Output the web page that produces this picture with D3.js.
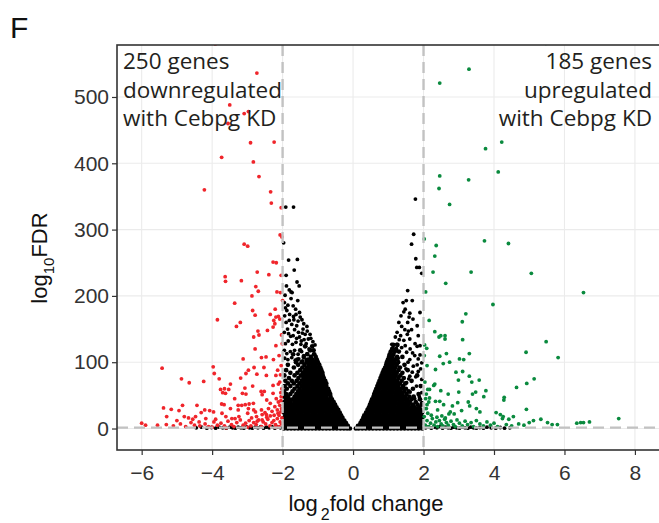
<!DOCTYPE html>
<html>
<head>
<meta charset="utf-8">
<script src="https://cdn.jsdelivr.net/npm/d3@7"></script>
<style>
  body { margin: 0; background: #fff; }
</style>
</head>
<body>
<script>
// axis ticks and cut-offs
var xTicks = [-6, -4, -2, 0, 2, 4, 6, 8];
var yTicks = [0, 100, 200, 300, 400, 500];
var fcCut = [-2, 2];
var fdrCut = 1.3;

var downText = ["250 genes", "downregulated", "with Cebpg KD"];
var upText = ["185 genes", "upregulated", "with Cebpg KD"];

// significant down genes [log2FC, log10FDR]
var redPts = [
  [-3.91,580],[-2.73,536],[-3.50,488],[-3.09,475],[-2.97,478],[-3.55,460],[-2.91,431],[-2.24,432],[-3.73,409],[-2.83,402],
  [-2.67,380],[-4.22,360],[-2.34,357],[-2.32,340],[-2.04,333],
  [-2.07,292],[-2.02,289],[-3.09,278],[-2.99,275],[-2.27,251],[-2.18,250],[-2.72,236],[-2.39,232],[-2.04,231],[-3.63,229],
  [-3.62,222],[-3.17,223],[-2.76,214],[-2.69,207],[-2.16,206],[-2.06,205],[-2.87,200],[-2.00,193],[-3.36,189],[-2.21,180],
  [-2.85,178],[-2.78,171],[-2.35,172],[-2.19,168],[-2.12,169],[-2.08,165],[-2.25,163],[-2.22,158],[-3.85,164],[-3.20,160],
  [-3.31,154],[-2.27,153],[-2.70,147],[-2.67,141],[-2.43,148],[-2.82,138],[-2.03,141],[-2.19,125],[-2.01,128],[-2.78,120],
  [-3.12,105],[-2.60,107],[-2.47,108],[-2.26,104],[-3.97,93],[-5.42,91],[-2.81,92],[-2.53,92],[-2.97,88],[-3.04,83],
  [-3.94,83],[-2.73,82],[-2.46,80],[-2.19,80],[-2.06,81],[-4.87,75],[-3.19,76],[-3.80,75],[-4.65,69],[-4.24,71],
  [-3.48,67],[-2.85,64],[-2.27,65],[-2.12,67],[-3.76,59],[-3.65,60],[-3.53,59],[-3.70,54],[-3.62,53],[-3.07,61],
  [-3.14,53],[-3.04,52],[-2.61,56],[-2.52,56],[-2.58,51],[-3.36,45],[-2.27,53],[-2.05,54],[-2.04,48],[-3.73,37],
  [-3.66,36],[-3.26,35],[-3.16,35],[-3.06,36],[-2.95,37],[-2.83,38],[-5.38,31],[-5.16,29],[-4.84,35],[-4.94,27],
  [-4.43,35],[-4.21,28],[-3.48,30],[-3.26,28],[-2.97,30],[-2.82,28],[-2.77,25],[-4.31,24],[-4.07,27],[-3.96,25],
  [-5.29,18],[-4.79,18],[-4.67,16],[-4.47,18],[-4.37,10],[-4.18,15],
  [-3.72,23],[-3.61,18],[-3.44,15],[-3.24,18],[-2.99,23],[-2.74,18],[-2.58,21],[-2.46,21],[-2.35,19],[-2.24,20],
  [-2.13,23],[-2.05,25],[-6.00,8],[-5.89,5],
  [-5.55,5],[-5.30,6],[-5.10,4],[-4.90,7],[-4.75,3],[-4.60,9],[-4.50,5],[-4.35,4],[-4.20,7],[-4.10,3],
  [-3.95,10],[-3.85,5],[-3.75,8],[-3.65,4],[-3.55,11],[-3.45,6],[-3.38,3],[-3.30,9],[-3.20,13],[-3.12,5],
  [-3.05,8],[-2.95,12],[-2.90,4],[-2.82,9],[-2.75,6],[-2.68,13],[-2.60,3],[-2.55,10],[-2.48,7],[-2.42,14],
  [-2.36,4],[-2.30,9],[-2.25,12],[-2.20,6],[-2.15,15],[-2.10,3],[-2.07,10],[-2.03,7],[-2.02,16],[-3.90,14],
  [-3.35,15],[-2.88,16],[-2.45,17],[-2.58,13],[-2.72,11],[-3.00,2],[-2.20,2],[-4.00,2],[-3.60,1],[-5.00,12],
  [-4.55,14],[-2.03,30],[-2.08,35],[-2.12,40],[-2.05,42],[-2.15,28],[-2.22,33],[-2.10,20],[-2.30,26],[-2.40,30],
  [-2.50,24],[-2.35,38],[-2.18,45],[-2.60,28],[-2.45,43],[-2.02,60],[-2.08,70],[-2.04,95],[-2.10,110],[-2.14,88]
];

// significant up genes
var greenPts = [
  [3.29,542],[2.46,521],[4.22,432],[3.76,422],[2.46,381],[3.28,375],[4.12,387],[2.44,362],[2.74,338],[5.47,581],
  [2.02,286],[2.36,276],[2.32,260],[3.73,283],[4.41,279],[2.27,236],[3.35,236],[5.06,234],[2.63,219],[2.06,206],
  [6.54,205],[3.97,187],[3.20,173],[2.16,163],[3.10,161],[2.32,146],[2.44,138],[2.49,140],[2.61,140],[2.61,135],
  [3.11,134],[5.48,131],[2.03,126],[2.09,121],[4.91,115],[5.82,107],[2.65,113],[2.46,109],[3.30,113],[3.02,105],
  [3.14,104],[2.56,98],[2.74,100],[2.34,89],[2.92,85],[3.11,86],[3.30,79],[2.99,73],[3.58,73],[3.37,70],
  [5.14,75],[4.93,68],[4.64,62],[2.32,67],[2.29,65],[2.12,59],[2.17,59],[2.08,52],[2.49,57],[2.70,52],
  [3.00,55],[3.39,52],[3.48,55],[3.77,57],[3.71,48],[4.29,47],[4.28,43],[2.17,46],[2.15,40],[2.34,41],
  [2.46,41],[2.57,36],[2.82,34],[2.97,39],[3.27,40],[3.31,34],[3.08,27],[2.76,25],[2.72,22],[2.87,22],
  [3.50,30],[3.60,25],[2.12,23],[4.06,24],[4.18,21],[4.26,18],[4.24,15],[4.42,14],[4.55,18],[4.92,29],
  [5.12,12],[5.33,14],[5.52,9],[5.65,6],[5.80,6],[6.35,8],[6.46,9],[6.54,9],[6.71,10],[7.54,15],
  [2.05,5],[2.10,12],[2.15,3],[2.20,8],[2.25,15],[2.30,5],[2.35,10],[2.40,3],[2.45,12],[2.50,7],
  [2.55,4],[2.60,14],[2.65,9],[2.70,5],[2.78,11],[2.85,6],[2.90,3],[2.95,13],[3.02,8],[3.10,4],
  [3.18,11],[3.25,6],[3.35,9],[3.42,3],[3.50,12],[3.60,7],[3.70,4],[3.80,10],[3.90,5],[4.00,8],
  [4.10,3],[4.35,6],[4.50,4],[4.70,7],[4.85,5],[5.00,9],[2.02,18],[2.08,30],[2.22,20],[2.38,17],
  [2.52,19],[2.62,16],[2.40,28],[2.10,36],[2.03,30],[2.06,45],[2.04,70],[2.10,95],[2.02,110]
];

// non-significant genes, sparse part above the dense core
var blackScatter = [
  [-1.91,334],[-1.69,334],[-1.97,280],[-1.83,254],[-1.58,255],[-1.67,239],[-1.90,231],[-1.59,221],[-1.53,215],[-1.89,215],
  [-1.81,209],[-1.76,206],[-1.73,205],[-1.93,201],[-1.76,196],[-1.57,193],[-1.52,175],[-1.69,169],[-1.81,163],[-1.68,164],
  [-1.56,162],[-1.45,164],[-1.74,157],[-1.60,155],[-1.40,158],[-1.31,154],[-1.66,149],[-1.55,145],[-1.44,144],[-1.36,142],
  [-1.22,142],[-1.77,139],[-1.52,138],[-1.39,134],[-1.27,135],[-1.14,131],[-1.08,126],
  [-1.92,182],[-1.85,186],[-1.63,180],[-1.94,170],[-1.86,150],[-1.92,128],[-1.84,132],[-1.72,127],[-1.62,130],[-1.48,127],
  [-1.35,124],[-1.25,120],[-1.18,118],[-1.95,118],[-1.88,113],[-1.78,116],[-1.66,118],[-1.56,112],[-1.46,116],[-1.40,110],
  [-1.30,113],[-1.20,108],[-1.12,112],[-1.94,106],[-1.85,104],[-1.74,107],[-1.64,103],[-1.54,105],[-1.43,102],[-1.33,104],
  [-1.25,101],[-1.15,103],[-1.05,104],
  [-1.95,190],[-1.88,178],[-1.80,172],[-1.70,185],[-1.62,172],[-1.50,168],[-1.42,150],[-1.30,147],[-1.20,136],[-1.90,160],
  [-1.95,145],[-1.83,143],[-1.70,140],[-1.60,136],[-1.47,132],[-1.33,128],
  [1.77,346],[1.72,293],[1.66,278],[1.78,256],[1.81,243],[1.88,243],[1.95,234],[1.55,208],[1.51,193],[1.68,193],
  [1.44,176],[1.61,174],[1.59,168],[1.90,175],
  [1.38,154],[1.47,149],[1.57,147],[1.66,149],[1.82,155],[1.54,142],[1.31,134],[1.44,133],[1.61,135],[1.76,128],
  [1.24,127],[1.10,127],[1.38,122],[1.82,124],[1.19,116],[1.52,115],[1.69,114],[1.90,111],[1.05,109],[1.28,106],
  [1.61,104],[1.82,96],[1.95,99],[1.71,94],[1.85,86],[1.61,79],[1.95,74],[1.52,69],[1.33,59],[1.80,64],
  [1.95,54],[1.95,39],[1.80,29],[1.90,19],
  [1.30,160],[1.36,170],[1.48,180],[1.42,190],[1.55,160],[1.25,145],[1.35,140],[1.70,165],[1.85,140],[1.20,138],
  [1.48,125],[1.62,120],[1.90,125],[1.75,110],[1.56,100],[1.85,105],[1.68,85],[1.50,90],[1.92,90],[1.58,75],
  [1.78,78],[1.45,60],[1.62,55],[1.75,45],[1.88,48]
];

// dense core of non-significant genes: [log10FDR, [log2FC ...]] per row
var blackCoreLeft = [
  [0, [-1.96,-1.86,-1.76,-1.66,-1.56,-1.46,-1.36,-1.26,-1.16,-1.06,-0.96,-0.86,-0.76,-0.66,-0.56,-0.46,-0.36,-0.26,-0.17,-0.09]],
  [4, [-1.91,-1.81,-1.71,-1.61,-1.51,-1.41,-1.31,-1.21,-1.11,-1.01,-0.91,-0.81,-0.71,-0.61,-0.51,-0.41,-0.31,-0.22,-0.15]],
  [8, [-1.96,-1.86,-1.76,-1.66,-1.56,-1.46,-1.36,-1.26,-1.16,-1.06,-0.96,-0.86,-0.76,-0.66,-0.56,-0.46,-0.36,-0.27,-0.20]],
  [12, [-1.92,-1.82,-1.72,-1.62,-1.52,-1.42,-1.32,-1.22,-1.12,-1.02,-0.92,-0.82,-0.72,-0.62,-0.52,-0.42,-0.33,-0.25]],
  [16, [-1.96,-1.87,-1.77,-1.67,-1.57,-1.47,-1.37,-1.27,-1.17,-1.07,-0.97,-0.87,-0.77,-0.67,-0.57,-0.47,-0.38,-0.30]],
  [20, [-1.92,-1.82,-1.72,-1.62,-1.52,-1.42,-1.32,-1.22,-1.12,-1.02,-0.92,-0.82,-0.72,-0.62,-0.52,-0.43,-0.34]],
  [24, [-1.96,-1.86,-1.76,-1.66,-1.56,-1.46,-1.36,-1.26,-1.16,-1.06,-0.96,-0.86,-0.76,-0.66,-0.56,-0.47,-0.38]],
  [28, [-1.91,-1.81,-1.71,-1.61,-1.51,-1.41,-1.31,-1.21,-1.11,-1.01,-0.91,-0.81,-0.71,-0.61,-0.51,-0.42]],
  [32, [-1.96,-1.86,-1.76,-1.66,-1.56,-1.46,-1.36,-1.26,-1.16,-1.06,-0.96,-0.86,-0.76,-0.66,-0.56,-0.47]],
  [36, [-1.92,-1.82,-1.72,-1.62,-1.52,-1.42,-1.32,-1.22,-1.12,-1.02,-0.92,-0.82,-0.72,-0.62,-0.51]],
  [40, [-1.95,-1.86,-1.77,-1.66,-1.56,-1.46,-1.36,-1.26,-1.16,-1.06,-0.96,-0.86,-0.76,-0.66,-0.55]],
  [44, [-1.90,-1.81,-1.71,-1.61,-1.51,-1.41,-1.31,-1.21,-1.11,-1.01,-0.91,-0.81,-0.71,-0.60]],
  [48, [-1.95,-1.85,-1.66,-1.56,-1.46,-1.36,-1.26,-1.16,-1.06,-0.96,-0.86,-0.76,-0.64]],
  [52, [-1.90,-1.78,-1.61,-1.51,-1.41,-1.31,-1.21,-1.11,-1.01,-0.91,-0.81,-0.71,-0.65]],
  [56, [-1.96,-1.72,-1.56,-1.46,-1.36,-1.26,-1.16,-1.06,-0.96,-0.86,-0.76,-0.68]],
  [60, [-1.88,-1.66,-1.52,-1.41,-1.31,-1.21,-1.11,-1.01,-0.91,-0.81,-0.71]],
  [64, [-1.94,-1.78,-1.58,-1.46,-1.36,-1.26,-1.16,-1.06,-0.96,-0.86,-0.76]],
  [68, [-1.85,-1.68,-1.52,-1.41,-1.31,-1.21,-1.11,-1.01,-0.91,-0.81,-0.76]],
  [72, [-1.92,-1.74,-1.60,-1.46,-1.36,-1.26,-1.16,-1.06,-0.96,-0.86,-0.79]],
  [76, [-1.82,-1.55,-1.41,-1.31,-1.21,-1.11,-1.01,-0.91,-0.83]],
  [80, [-1.95,-1.66,-1.48,-1.36,-1.26,-1.16,-1.06,-0.96,-0.86]],
  [84, [-1.78,-1.58,-1.42,-1.31,-1.21,-1.11,-1.01,-0.91,-0.87]],
  [88, [-1.90,-1.50,-1.36,-1.26,-1.16,-1.06,-0.96,-0.90]],
  [92, [-1.68,-1.44,-1.31,-1.21,-1.11,-1.01,-0.93]],
  [96, [-1.85,-1.56,-1.38,-1.26,-1.16,-1.06,-0.96]],
  [100, [-1.62,-1.46,-1.32,-1.21,-1.11,-1.00]],
  [104, [-1.58,-1.28,-1.16,-1.03]],
  [108, [-1.40,-1.20,-1.06]],
  [112, [-1.70,-1.30,-1.10]],
  [118, [-1.50,-1.22,-1.12]],
  [124, [-1.36,-1.16]]
];

var blackCoreRight = [
  [0, [0.08,0.16,0.26,0.36,0.46,0.56,0.66,0.76,0.86,0.96,1.06,1.16,1.26,1.36,1.46,1.56,1.66,1.76,1.86,1.96]],
  [4, [0.14,0.21,0.31,0.41,0.51,0.61,0.71,0.81,0.91,1.01,1.11,1.21,1.31,1.41,1.51,1.61,1.71,1.81,1.91]],
  [8, [0.21,0.26,0.36,0.46,0.56,0.66,0.76,0.86,0.96,1.06,1.16,1.26,1.36,1.46,1.56,1.66,1.76,1.86,1.96]],
  [12, [0.25,0.32,0.42,0.52,0.62,0.72,0.82,0.92,1.02,1.12,1.22,1.32,1.42,1.52,1.62,1.72,1.82,1.92]],
  [16, [0.29,0.37,0.47,0.57,0.67,0.77,0.87,0.97,1.07,1.17,1.27,1.37,1.47,1.57,1.67,1.77,1.87,1.96]],
  [20, [0.32,0.42,0.52,0.62,0.72,0.82,0.92,1.02,1.12,1.22,1.32,1.42,1.52,1.62,1.72,1.82,1.92]],
  [24, [0.37,0.46,0.56,0.66,0.76,0.86,0.96,1.06,1.16,1.26,1.36,1.46,1.56,1.66,1.76,1.86,1.96]],
  [28, [0.41,0.51,0.61,0.71,0.81,0.91,1.01,1.11,1.21,1.31,1.41,1.51,1.61,1.71,1.81,1.91]],
  [32, [0.45,0.55,0.65,0.75,0.85,0.95,1.05,1.15,1.25,1.35,1.45,1.55,1.65,1.75,1.88]],
  [36, [0.48,0.58,0.68,0.78,0.88,0.98,1.08,1.18,1.28,1.38,1.48,1.58,1.70,1.83,1.95]],
  [40, [0.51,0.61,0.71,0.81,0.91,1.01,1.11,1.21,1.31,1.41,1.51,1.61,1.78]],
  [44, [0.54,0.64,0.74,0.84,0.94,1.04,1.14,1.24,1.34,1.44,1.54,1.66,1.90]],
  [48, [0.58,0.68,0.78,0.88,0.98,1.08,1.18,1.28,1.38,1.48,1.60,1.72]],
  [52, [0.60,0.70,0.80,0.90,1.00,1.10,1.20,1.30,1.40,1.52,1.86]],
  [56, [0.63,0.73,0.83,0.93,1.03,1.13,1.23,1.33,1.45,1.58]],
  [60, [0.66,0.76,0.86,0.96,1.06,1.16,1.26,1.36,1.50,1.70]],
  [64, [0.69,0.79,0.89,0.99,1.09,1.19,1.29,1.42,1.92]],
  [68, [0.72,0.82,0.92,1.02,1.12,1.22,1.33,1.48]],
  [72, [0.75,0.85,0.95,1.05,1.15,1.25,1.38,1.66]],
  [76, [0.78,0.88,0.98,1.08,1.18,1.29,1.44]],
  [80, [0.81,0.91,1.01,1.11,1.21,1.34,1.82]],
  [84, [0.84,0.94,1.04,1.14,1.24,1.40]],
  [88, [0.87,0.97,1.07,1.17,1.29,1.55]],
  [92, [0.91,1.00,1.10,1.20,1.33]],
  [96, [0.94,1.03,1.13,1.24,1.46]],
  [100, [0.96,1.06,1.16,1.28]],
  [104, [0.99,1.09,1.20]],
  [108, [1.02,1.12,1.25,1.40]],
  [112, [1.04,1.14]],
  [116, [1.07,1.18,1.30]],
  [120, [1.11,1.22]],
  [126, [1.14,1.26]]
];

// non-significant genes with large fold change, lying on the floor
var blackBase = [
  [-4.45,1],[-4.30,2],[-4.15,0.5],[-4.02,1.5],[-3.90,0.5],[-3.80,2],[-3.70,1],[-3.60,0.5],[-3.50,2],[-3.42,1],
  [-3.34,0.5],[-3.26,2],[-3.18,1],[-3.10,0.5],[-3.02,2.5],[-2.94,1],[-2.86,0.5],[-2.78,2],[-2.70,1],[-2.62,3],
  [-2.54,0.5],[-2.46,2],[-2.38,1],[-2.30,3],[-2.22,0.5],[-2.14,2],[-2.06,1],
  [2.06,1],[2.14,2.5],[2.22,0.5],[2.30,2],[2.38,1],[2.46,3],[2.54,0.5],[2.62,2],[2.70,1],[2.78,0.5],
  [2.86,2],[2.94,1],[3.02,0.5],[3.10,2],[3.18,1],[3.26,0.5],[3.34,2],[3.42,1],[3.50,0.5],[3.60,1.5],
  [3.70,0.5],[3.80,2],[3.92,1],[4.05,0.5],[4.18,1.5],[4.30,0.5],[4.45,1]
];

var margin = { top: 45, right: -2, bottom: 73, left: 117 },
    width = 659 - margin.left - margin.right,
    height = 523 - margin.top - margin.bottom;

var svg = d3.select("body").append("svg")
    .attr("width", 659)
    .attr("height", 523);

var g = svg.append("g")
    .attr("transform", "translate(" + margin.left + "," + margin.top + ")");

var xScale = d3.scaleLinear().domain([-6.70, 8.74]).range([0, width]);
var yScale = d3.scaleLinear().domain([-32.4, 578.4]).range([height, 0]);

var sansFont = "'Liberation Sans', Arial, sans-serif";
var noteFont = "'Open Sans', 'Noto Sans', sans-serif";

// grid
g.append("g").selectAll("line").data(xTicks).enter().append("line")
    .attr("x1", function (d) { return xScale(d); })
    .attr("x2", function (d) { return xScale(d); })
    .attr("y1", 0).attr("y2", height)
    .attr("stroke", "#ebebeb").attr("stroke-width", 1.1);
g.append("g").selectAll("line").data(yTicks).enter().append("line")
    .attr("y1", function (d) { return yScale(d); })
    .attr("y2", function (d) { return yScale(d); })
    .attr("x1", 0).attr("x2", width)
    .attr("stroke", "#ebebeb").attr("stroke-width", 1.1);

svg.append("defs").append("clipPath").attr("id", "panel")
    .append("rect").attr("width", width).attr("height", height);

var pts = g.append("g").attr("clip-path", "url(#panel)");

function flatRows(rows) {
    return rows.flatMap(function (r) { return r[1].map(function (x) { return [x, r[0]]; }); });
}

function drawPoints(data, colour, r) {
    pts.append("g").selectAll("circle")
        .data(data)
        .enter().append("circle")
        .attr("cx", function (d) { return xScale(d[0]); })
        .attr("cy", function (d) { return yScale(d[1]); })
        .attr("r", r)
        .style("fill", colour);
}

// the core rows stand for a crowd of overlapping genes, so they get a fuller dot
drawPoints(flatRows(blackCoreLeft).concat(flatRows(blackCoreRight)), "#000", 2.35);
drawPoints(blackBase.concat(blackScatter), "#000", 1.9);
drawPoints(redPts, "#f0252b", 1.9);
drawPoints(greenPts, "#0a8a3e", 1.9);

// cut-off lines
var cuts = g.append("g").attr("stroke", "#c2c2c2").attr("stroke-width", 2.4)
    .attr("stroke-dasharray", "11,6");
cuts.selectAll("line.v").data(fcCut).enter().append("line")
    .attr("x1", function (d) { return xScale(d); })
    .attr("x2", function (d) { return xScale(d); })
    .attr("y1", 0).attr("y2", height);
cuts.append("line")
    .attr("x1", 0).attr("x2", width)
    .attr("y1", yScale(fdrCut)).attr("y2", yScale(fdrCut));

// panel border
g.append("rect")
    .attr("width", width).attr("height", height)
    .attr("fill", "none").attr("stroke", "#333").attr("stroke-width", 1.6);

// axes
var xAxis = d3.axisBottom(xScale).tickValues(xTicks).tickSize(5).tickPadding(10);
var yAxis = d3.axisLeft(yScale).tickValues(yTicks).tickSize(5).tickPadding(3);

function styleAxis(sel) {
    sel.select(".domain").remove();
    sel.selectAll(".tick line").attr("stroke", "#333").attr("stroke-width", 1.2);
    sel.selectAll(".tick text").attr("fill", "#333")
        .style("font-family", sansFont).style("font-size", "21px");
}

g.append("g")
    .attr("transform", "translate(0," + height + ")")
    .call(xAxis)
    .call(styleAxis);

g.append("g")
    .call(yAxis)
    .call(styleAxis);

// axis titles
var xTitle = svg.append("text")
    .attr("x", 366).attr("y", 511)
    .attr("text-anchor", "middle")
    .style("font-family", sansFont).style("font-size", "22px").attr("fill", "#111");
xTitle.append("tspan").text("log");
xTitle.append("tspan").attr("dx", 3).attr("dy", 9).style("font-size", "16px").text("2");
xTitle.append("tspan").attr("dy", -9).text("fold change");

var yTitle = svg.append("text")
    .attr("transform", "translate(47,258) rotate(-90)")
    .attr("text-anchor", "middle")
    .style("font-family", sansFont).style("font-size", "22px").attr("fill", "#111");
yTitle.append("tspan").text("log");
yTitle.append("tspan").attr("dy", 7).style("font-size", "15px").text("10");
yTitle.append("tspan").attr("dy", -7).text("FDR");

// panel tag
svg.append("text")
    .attr("x", 10).attr("y", 38)
    .style("font-family", sansFont).style("font-size", "30px").attr("fill", "#111")
    .text("F");

// annotations
svg.append("g").selectAll("text").data(downText).enter().append("text")
    .attr("x", 123)
    .attr("y", function (d, i) { return 69 + i * 28.7; })
    .style("font-family", noteFont).style("font-size", "22.5px").attr("fill", "#231f20")
    .text(function (d) { return d; });

svg.append("g").selectAll("text").data(upText).enter().append("text")
    .attr("x", 652)
    .attr("y", function (d, i) { return 69 + i * 28.7; })
    .attr("text-anchor", "end")
    .style("font-family", noteFont).style("font-size", "22.5px").attr("fill", "#231f20")
    .text(function (d) { return d; });
</script>
</body>
</html>
